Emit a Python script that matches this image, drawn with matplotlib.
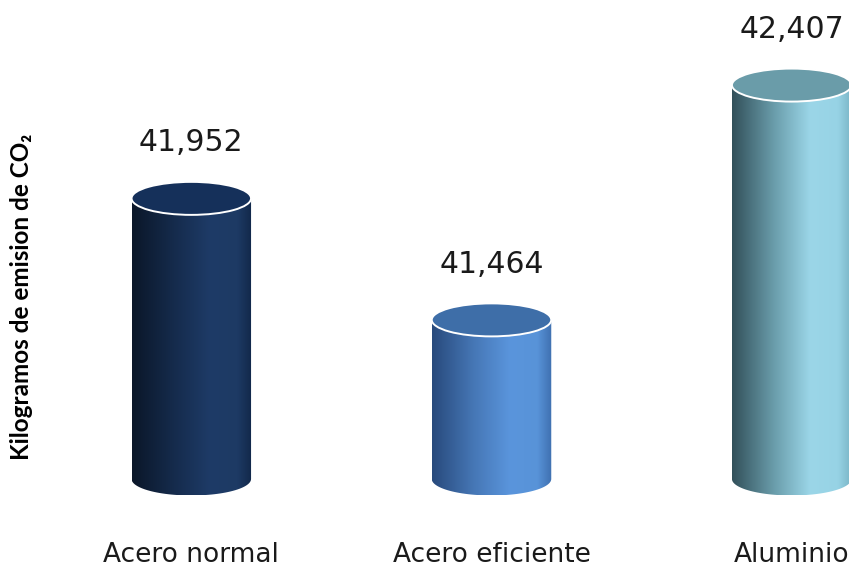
import numpy as np
import matplotlib
matplotlib.use("Agg")
import matplotlib.pyplot as plt
import matplotlib.transforms as mtransforms
from matplotlib.colors import LinearSegmentedColormap
from matplotlib.patches import Ellipse, PathPatch
from matplotlib.path import Path

# data
categories = ["Acero normal", "Acero eficiente", "Aluminio"]
values = [41.952, 41.464, 42.407]
value_labels = ["41,952", "41,464", "42,407"]

# gradient across each cylinder side (left -> right) and the lid colour
side_colors = [
    ["#0b1729", "#152b4c", "#1e3b67", "#1d3a64", "#12284a"],
    ["#284a7c", "#4677b6", "#5a95dc", "#5893d8", "#3f70b0"],
    ["#32505a", "#6a9dab", "#9bd6e8", "#97d3e5", "#78b3c4"],
]
side_stops = [0.0, 0.35, 0.65, 0.88, 1.0]
top_colors = ["#15305a", "#3e6ea8", "#6a9ca9"]

y_base = 40.825  # where the cylinders stand

# layout in pixels
W, H = 849, 570
px_x, x0_px = 300.2, 191.3
px_y, base_px = 249.0, 479.0
cyl_w = 119.5 / px_x
lid_h = 33.0 / px_y

fig = plt.figure(figsize=(W / 100, H / 100), dpi=100)
ax = fig.add_axes([0, 0, 1, 1])
ax.axis("off")

t = np.linspace(np.pi, 2 * np.pi, 60)
grad = np.linspace(0, 1, 256)[np.newaxis, :]

for i, v in enumerate(values):
    x = i
    l, r = x - cyl_w / 2, x + cyl_w / 2
    # side of the cylinder with its rounded bottom
    arc = np.column_stack([x + cyl_w / 2 * np.cos(t), y_base + lid_h / 2 * np.sin(t)])
    verts = np.vstack([[l, v], arc, [r, v], [l, v]])
    codes = [Path.MOVETO] + [Path.LINETO] * (len(verts) - 2) + [Path.CLOSEPOLY]
    clip = PathPatch(Path(verts, codes), transform=ax.transData)
    cm = LinearSegmentedColormap.from_list("c%d" % i, list(zip(side_stops, side_colors[i])))
    im = ax.imshow(grad, cmap=cm, extent=[l, r, y_base - lid_h / 2, v],
                   aspect="auto", zorder=2, interpolation="bilinear")
    im.set_clip_path(clip)
    # lid
    ax.add_patch(Ellipse((x, v), cyl_w, lid_h, facecolor=top_colors[i],
                         edgecolor="white", lw=1.4, zorder=3))
    ax.annotate(value_labels[i], (x, v), xytext=(0, 40), textcoords="offset points",
                ha="center", va="center", fontsize=21.5, color="#1a1a1a",
                annotation_clip=False)

ax.set_xlim(-x0_px / px_x, (W - x0_px) / px_x)
ax.set_ylim(y_base - (H - base_px) / px_y, y_base + base_px / px_y)

trans = mtransforms.blended_transform_factory(ax.transData, ax.transAxes)
for i, cat in enumerate(categories):
    ax.text(i, 1 - 555 / H, cat, transform=trans, ha="center", va="center",
            fontsize=19, color="#1a1a1a")

fig.text(22 / W, 1 - 297 / H, "Kilogramos de emision de CO\u2082", rotation=90,
         ha="center", va="center", fontsize=17.5, fontweight="bold",
         family=["Lato", "DejaVu Sans"], color="black")

fig.savefig("out.png", dpi=100)
